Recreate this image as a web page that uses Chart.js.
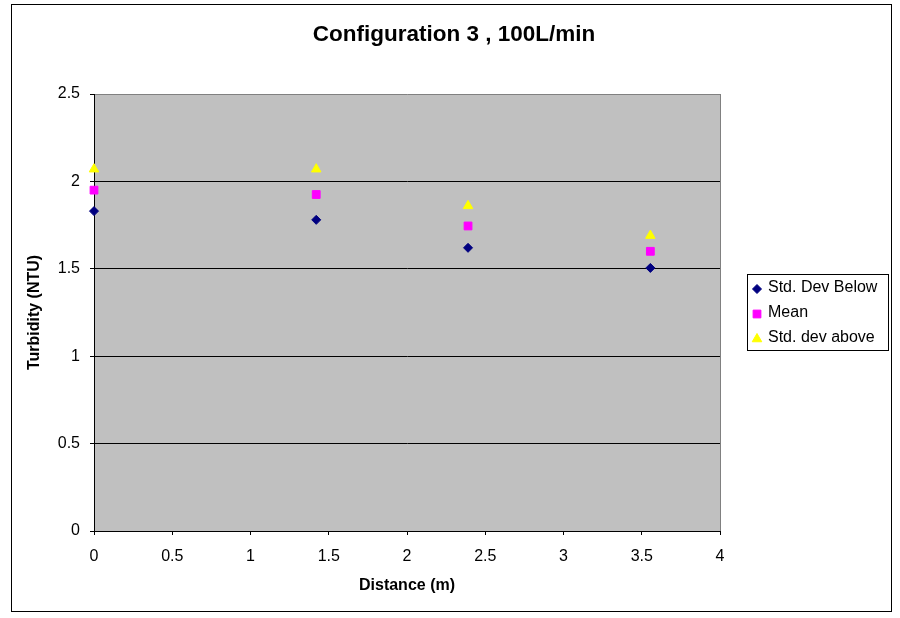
<!DOCTYPE html>
<html lang="en">
<head>
<meta charset="utf-8">
<title>Configuration 3 , 100L/min</title>
<style>
  body { margin: 0; background: #fff; }
  canvas { display: block; }
</style>
</head>
<body>
<canvas id="canvas" width="900" height="618"></canvas>
<script src="https://cdn.jsdelivr.net/npm/chart.js"></script>
<script>

// values
let distances = [0, 1.42, 2.39, 3.555]
let stdBelow = [1.83, 1.78, 1.62, 1.505]
let means = [1.95, 1.925, 1.745, 1.60]
let stdAbove = [2.07, 2.07, 1.86, 1.69]

let xTicks = [0, 0.5, 1, 1.5, 2, 2.5, 3, 3.5, 4]
let yTicks = [0, 0.5, 1, 1.5, 2, 2.5]

const FONT = "'Liberation Sans', Arial, sans-serif"
const TITLE = "Configuration 3 , 100L/min"

function points(ys) {
    return distances.map((x, i) => ({ x: x, y: ys[i] }))
}

// frame, grey plot area, title and boxed legend
let excelLook = {
    id: "excelLook",
    beforeDraw(chart) {
        let c = chart.ctx
        let a = chart.chartArea
        c.save()
        c.fillStyle = "#fff"
        c.fillRect(0, 0, chart.width, chart.height)
        c.strokeStyle = "#000"
        c.lineWidth = 1
        c.strokeRect(11.5, 4.5, 880, 607)
        c.fillStyle = "#c0c0c0"
        c.fillRect(a.left, a.top, a.right - a.left, a.bottom - a.top)
        c.strokeStyle = "#808080"
        c.beginPath()
        c.moveTo(a.right + 0.5, a.top)
        c.lineTo(a.right + 0.5, a.bottom)
        c.stroke()

        c.fillStyle = "#000"
        c.font = "bold 22.5px " + FONT
        c.textAlign = "center"
        c.textBaseline = "middle"
        c.fillText(TITLE, 454, 35)
        c.restore()
    },
    afterDraw(chart) {
        let c = chart.ctx
        c.save()
        c.fillStyle = "#fff"
        c.fillRect(747, 274, 141, 76)
        c.strokeStyle = "#000"
        c.lineWidth = 1
        c.strokeRect(747.5, 274.5, 141, 76)
        c.font = "16px " + FONT
        c.textAlign = "left"
        c.textBaseline = "middle"
        chart.data.datasets.forEach((ds, i) => {
            let y = 288 + i * 25
            c.fillStyle = ds.backgroundColor
            c.strokeStyle = ds.borderColor
            Chart.helpers.drawPoint(c, {
                pointStyle: ds.pointStyle,
                radius: ds.legendRadius,
                borderWidth: 1,
                rotation: 0,
            }, 757, y + 1)
            c.fillStyle = "#000"
            c.fillText(ds.label, 768, y)
        })
        c.restore()
    },
}

let chart = new Chart(document.getElementById("canvas"), {
    type: "scatter",
    data: {
        datasets: [
            {
                label: "Std. Dev Below",
                data: points(stdBelow),
                pointStyle: "rectRot",
                pointRadius: 4.5,
                legendRadius: 4.5,
                backgroundColor: "#000080",
                borderColor: "#000080",
                borderWidth: 1,
                clip: false,
            },
            {
                label: "Mean",
                data: points(means),
                pointStyle: "rect",
                pointRadius: 5.5,
                legendRadius: 5.5,
                backgroundColor: "#ff00ff",
                borderColor: "#ff00ff",
                borderWidth: 1,
                clip: false,
            },
            {
                label: "Std. dev above",
                data: points(stdAbove),
                pointStyle: "triangle",
                pointRadius: 5.5,
                legendRadius: 5.5,
                backgroundColor: "#ffff00",
                borderColor: "#ffff00",
                borderWidth: 1,
                clip: false,
            },
        ]
    },
    options: {
        responsive: false,
        animation: false,
        devicePixelRatio: 1,
        layout: {
            padding: { left: 11, top: 94, right: 180, bottom: 6 }
        },
        plugins: {
            legend: { display: false },
            title: { display: false },
            tooltip: { enabled: false },
        },
        scales: {
            x: {
                type: "linear",
                min: 0,
                max: 4,
                afterFit: s => { s.height = 81 },
                afterBuildTicks: s => { s.ticks = xTicks.map(v => ({ value: v })) },
                ticks: {
                    color: "#000",
                    font: { family: FONT, size: 16 },
                    padding: 12,
                    maxRotation: 0,
                    callback: v => String(v),
                },
                grid: {
                    drawOnChartArea: false,
                    tickLength: 4,
                    tickColor: "#000",
                },
                border: { color: "#000", width: 1 },
                title: {
                    display: true,
                    text: "Distance (m)",
                    color: "#000",
                    font: { family: FONT, size: 16, weight: "bold" },
                    padding: { top: 0, bottom: 17 },
                },
            },
            y: {
                min: 0,
                max: 2.5,
                afterFit: s => { s.width = 83 },
                afterBuildTicks: s => { s.ticks = yTicks.map(v => ({ value: v })) },
                ticks: {
                    color: "#000",
                    font: { family: FONT, size: 16 },
                    padding: 10,
                    callback: v => String(v),
                },
                grid: {
                    color: ctx => ctx.tick && ctx.tick.value === 2.5 ? "#808080" : "#000",
                    tickLength: 4,
                    tickColor: "#000",
                },
                border: { color: "#000", width: 1 },
                title: {
                    display: true,
                    text: "Turbidity (NTU)",
                    color: "#000",
                    font: { family: FONT, size: 16, weight: "bold" },
                    padding: { top: 14, bottom: 0 },
                },
            },
        },
    },
    plugins: [excelLook],
})

</script>
</body>
</html>
